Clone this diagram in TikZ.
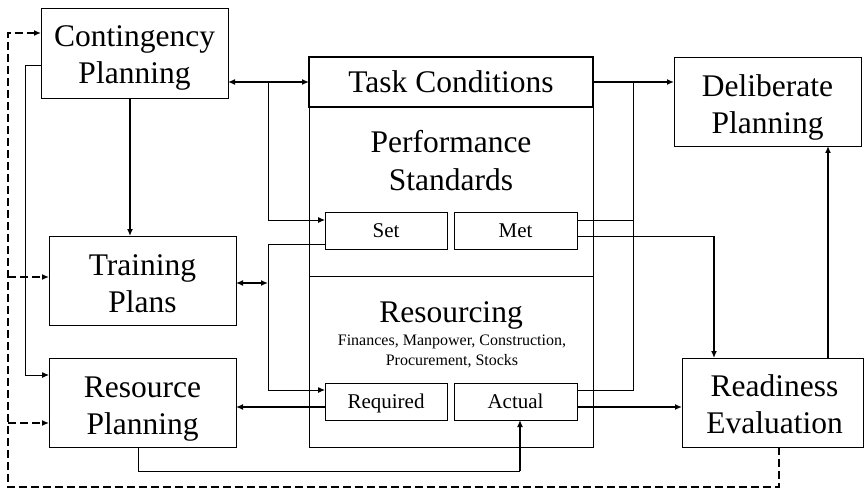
\documentclass[tikz,border=0pt]{standalone}
\usepackage{fontspec}
\setmainfont{Liberation Serif}
\usetikzlibrary{arrows.meta}
\begin{document}
\begin{tikzpicture}[x=1pt,y=-1pt,
  box/.style={draw, line width=0.9pt, inner sep=0pt, outer sep=0pt, anchor=north west},
  tcbox/.style={box, line width=1.7pt},
  small/.style={box, font=\fontsize{21}{25}\selectfont, text height=14pt, text depth=0pt},
  bigtxt/.style={font=\fontsize{31.5}{37.5}\selectfont, align=center, inner sep=0pt},
  subtxt/.style={font=\fontsize{16}{19.5}\selectfont, align=center, inner sep=0pt},
  tip/.style={-{Latex[length=7pt,width=6pt]}},
  dtip/.style={{Latex[length=7pt,width=6pt]}-{Latex[length=7pt,width=6pt]}},
  thickconn/.style={line width=1.7pt},
  thinconn/.style={line width=1pt},
  dashconn/.style={line width=1.5pt, dash pattern=on 8pt off 4pt}
]
\useasboundingbox (0,0) rectangle (864,489);

% boxes
\node[box, minimum width=187pt, minimum height=90pt] (cp) at (41,8) {};
\node[bigtxt] (cpt) at (134.5,58) {Contingency\\Planning};
\node[box, minimum width=187pt, minimum height=89pt] (tp) at (49,236) {};
\node[bigtxt] (tpt) at (142.5,283.5) {Training\\Plans};
\node[box, minimum width=187pt, minimum height=89pt] (rp) at (49,358) {};
\node[bigtxt] (rpt) at (142.5,409) {Resource\\Planning};

\node[box, minimum width=284pt, minimum height=169pt] (ps) at (309,107) {};
\node[bigtxt] (pst) at (451,160.5) {Performance\\Standards};
\node[box, minimum width=284pt, minimum height=171pt] (rs) at (309,276) {};
\node[bigtxt, anchor=base] (rst) at (451,322) {Resourcing};
\node[subtxt] (rss) at (452,351.5) {Finances, Manpower, Construction,\\Procurement, Stocks};
\node[tcbox, minimum width=284pt, minimum height=50pt, font=\fontsize{31.5}{37.5}\selectfont] (tc) at (309,57) {Task Conditions};

\node[small, minimum width=122pt, minimum height=37pt] (set) at (325,212) {Set};
\node[small, minimum width=123pt, minimum height=37pt] (met) at (454,212) {Met};
\node[small, minimum width=122pt, minimum height=37pt] (req) at (325,383) {Required};
\node[small, minimum width=123pt, minimum height=37pt] (act) at (454,383) {Actual};

\node[box, minimum width=187pt, minimum height=89pt] (dp) at (674,57) {};
\node[bigtxt] (dpt) at (767.5,107.5) {Deliberate\\Planning};
\node[box, minimum width=181pt, minimum height=89pt] (re) at (682,358) {};
\node[bigtxt] (ret) at (774.5,404) {Readiness\\Evaluation};

% Contingency <-> Task Conditions, branch to Set
\draw[thickconn, dtip] (cp.east |- tc.west) -- (tc.west);
\coordinate (b1) at (268,82);
\draw[thinconn, tip] (b1) |- ([yshift=10.5pt]set.west);
% Set -> Required
\coordinate (setout) at ([yshift=-13.5pt]set.west);
\draw[thinconn, tip] (setout) -- (268,244) |- ([yshift=11.5pt]req.west);
% Training <-> bus
\coordinate (tpout) at ([yshift=-2.5pt]tp.east);
\draw[thickconn, dtip] (tpout) -- (268,283);
% Required -> Resource Planning
\coordinate (rq1) at ([yshift=-5.5pt]req.west);
\draw[thickconn, tip] (rq1) -- (rp.east |- rq1);
% Resource Planning -> Actual
\coordinate (j2) at (520,471);
\draw[thinconn] ([xshift=-4.5pt]rp.south) |- (j2);
\draw[thickconn, tip] (j2) -- (j2 |- act.south);
% Contingency -> Training
\coordinate (c1) at ([xshift=-4.5pt]cp.south);
\draw[thickconn, tip] (c1) -- (c1 |- tp.north);
% Contingency -> Resource Planning
\coordinate (c2) at ([yshift=-13pt]cp.west);
\draw[thinconn, tip] (c2) -- (25,66) |- ([yshift=27.5pt]rp.west);
% Task Conditions -> Deliberate
\draw[thickconn, tip] (tc.east) -- (dp.west |- tc.east);
% Met, Actual merge
\coordinate (m1) at (633,82);
\draw[thinconn] ([yshift=10.5pt]met.east) -| (m1);
\draw[thinconn] ([yshift=11.5pt]act.east) -| (m1);
% Met -> Readiness
\coordinate (metout) at ([yshift=-5.5pt]met.east);
\coordinate (rin) at ([xshift=-58.5pt]re.north);
\draw[thinconn] (metout) -- (rin |- metout);
\draw[thickconn, tip] (rin |- metout) -- (rin);
% Actual -> Readiness
\coordinate (actout) at ([yshift=-5.5pt]act.east);
\draw[thickconn, tip] (actout) -- (re.west |- actout);
% Readiness -> Deliberate
\coordinate (rout) at ([xshift=55.5pt]re.north);
\draw[thickconn, tip] (rout) -- (rout |- dp.south);
% dashed feedback
\coordinate (dl) at (8,487);
\draw[dashconn, tip] ([xshift=6.5pt]re.south) |- (dl) |- ([yshift=20pt]cp.west);
\coordinate (dt) at ([yshift=3.5pt]tp.west);
\draw[dashconn, tip] (dl |- dt) -- (dt);
\coordinate (dr) at ([yshift=-20.5pt]rp.west);
\draw[dashconn, tip] (dl |- dr) -- (dr);
\end{tikzpicture}
\end{document}
